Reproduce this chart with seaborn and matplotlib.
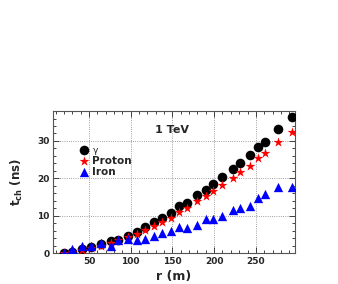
import numpy as np
import pandas as pd
import seaborn as sns
import matplotlib.pyplot as plt

# -----------------------------
# Data
# -----------------------------
r = [20, 30, 42, 52, 64, 77, 85, 97, 107, 117, 128, 137, 148, 158, 167,
     180, 190, 199, 210, 223, 231, 243, 253, 261, 276, 293]
t_gamma = [0.0, 0.3, 1.1, 1.5, 2.3, 3.1, 3.6, 4.5, 5.5, 6.9, 8.2, 9.4, 10.7,
           12.5, 13.4, 15.5, 16.9, 18.4, 20.3, 22.5, 24.2, 26.2, 28.4, 29.8,
           33.2, 36.5]
t_proton = [0.0, 0.2, 0.7, 1.3, 1.8, 2.7, 3.4, 4.2, 5.2, 6.1, 7.3, 8.3, 9.5,
            11.0, 12.0, 13.8, 15.2, 16.5, 18.3, 20.1, 21.6, 23.4, 25.4, 26.7,
            29.6, 32.5]
t_iron = [0.0, 1.1, 2.0, 1.8, 2.7, 1.8, 3.4, 3.8, 3.6, 3.8, 4.6, 5.3, 5.8,
          7.0, 6.7, 7.6, 9.1, 9.1, 10.0, 11.4, 12.0, 12.7, 14.7, 15.9, 17.6,
          17.6]

df = pd.DataFrame({"r": r, "gamma": t_gamma, "proton": t_proton, "iron": t_iron})

sns.set_style("ticks")
plt.rcParams['font.family'] = ['DejaVu Sans']
plt.rcParams['font.weight'] = 'bold'

fig = plt.figure(figsize=(3.38, 2.84), dpi=100)
ax = fig.add_axes([0.157, 0.109, 0.716, 0.5])

sns.scatterplot(data=df, x="r", y="gamma", ax=ax, color="black", marker="o",
                s=48, edgecolor="black", linewidth=0, label="γ", zorder=3)
sns.scatterplot(data=df, x="r", y="proton", ax=ax, color="red", marker="*",
                s=55, edgecolor="red", linewidth=0, label="Proton", zorder=4)
sns.scatterplot(data=df, x="r", y="iron", ax=ax, color="blue", marker="^",
                s=45, edgecolor="blue", linewidth=0, label="Iron", zorder=5)

ax.set_xlim(7, 297)
ax.set_ylim(0, 38)
ax.set_xticks([50, 100, 150, 200, 250])
ax.set_yticks([0, 10, 20, 30])
ax.set_xticks(np.arange(10, 297, 10), minor=True)
ax.set_yticks(np.arange(0, 38, 2), minor=True)
ax.tick_params(which="both", direction="in", top=True, right=True,
               labelsize=6.5, pad=2.5, width=0.6)
ax.tick_params(which="major", length=4)
ax.tick_params(which="minor", length=2)
for lab in ax.get_xticklabels() + ax.get_yticklabels():
    lab.set_fontweight("bold")
ax.grid(True, which="major", linestyle=":", color="gray", linewidth=0.6)
for sp in ax.spines.values():
    sp.set_color("#555555")
    sp.set_linewidth(0.8)

ax.set_xlabel("r (m)", fontsize=9, fontweight="bold", labelpad=3)
ax.set_ylabel(r"$\mathbf{t_{ch}}$ (ns)", fontsize=8.5, fontweight="bold", labelpad=9)

ax.text(0.49, 0.87, "1 TeV", transform=ax.transAxes, ha="center", va="center",
        fontsize=8, fontweight="bold")

leg = ax.legend(loc="upper left", bbox_to_anchor=(0.07, 0.795), frameon=False,
                fontsize=7.5, handletextpad=0.05, labelspacing=0.12, borderpad=0,
                handlelength=1.6)
leg.get_texts()[0].set_fontweight("normal")
leg.get_texts()[0].set_fontsize(6.5)

fig.savefig("out.png", dpi=100)
